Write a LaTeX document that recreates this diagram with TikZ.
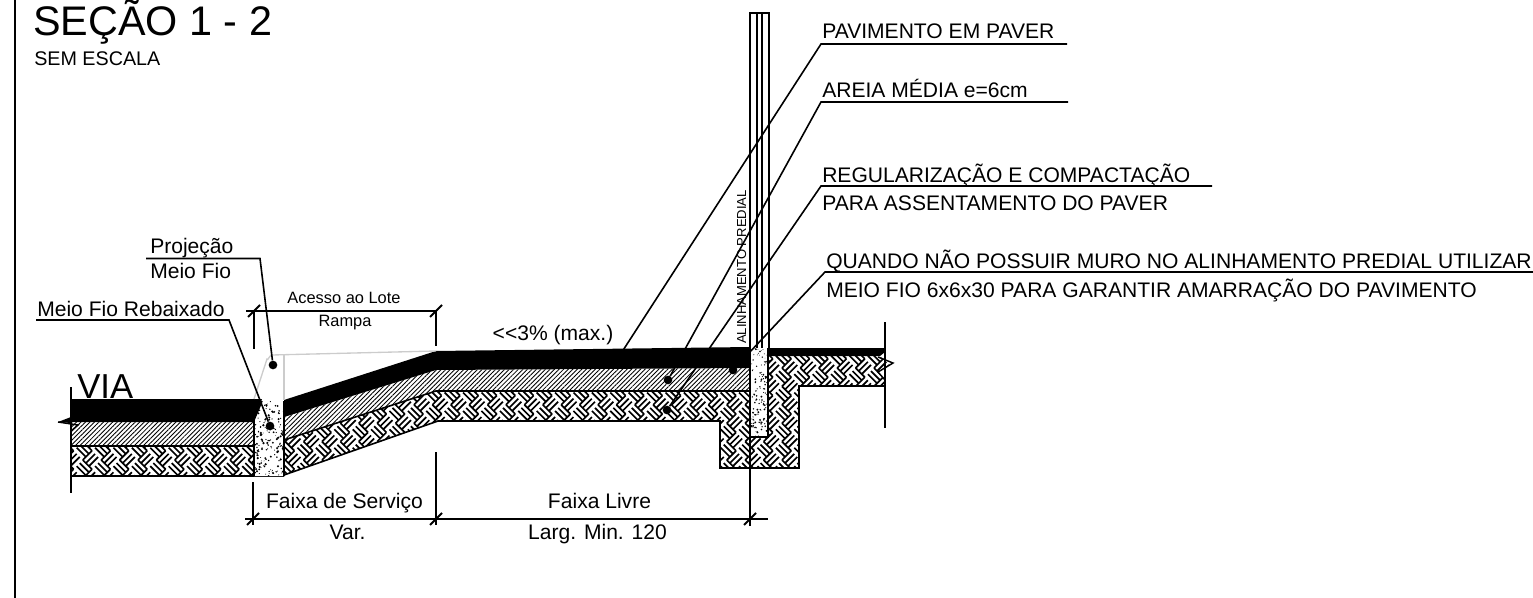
\documentclass[tikz,border=0pt]{standalone}
\usepackage{fontspec}
\setmainfont{Liberation Sans}
\usetikzlibrary{patterns.meta}
\newcommand{\weavecells}{%
    \foreach \i in {3,...,49} {
        \foreach \j in {19,...,26} {
            \foreach \cx/\cy/\turn in {0/0/45, 9.2/9.2/-45} {
                \draw[line width=1.25pt, shift={(\i*18.4+\cx,\j*18.4+\cy)}, rotate=\turn]
                    (-6.5,-6.5) -- (6.5,-6.5)
                    (-6.5,-2.17) -- (6.5,-2.17)
                    (-6.5,2.17) -- (6.5,2.17);
            }
        }
    }
}
\newcommand{\speckle}[4]{%
    \foreach \n in {1,...,#1} {
        \fill ({#2+rnd*(#3-#2)},{#4+rnd*(#4*0+1)*\curbheight}) circle ({0.5+rnd*1.1});
    }
}
\begin{document}
\begin{tikzpicture}[
        x=0.75pt,
        y=-0.75pt,
        mainline/.style={line width=1.2pt},
        dimline/.style={line width=1.1pt},
        greyline/.style={line width=1pt, draw=black!20},
        hatchfill/.style={pattern={Lines[angle=45,distance=2.4pt,line width=0.65pt]}},
        tick/.style={line width=1.5pt},
        dot/.style={circle, fill, inner sep=0, minimum size=6.5pt},
        callout/.style={font=\fontsize{15.8}{18}\selectfont, inner sep=0, anchor=base west},
        small/.style={font=\fontsize{12.3}{14}\selectfont, inner sep=0, anchor=base},
        label/.style={font=\fontsize{15.8}{18}\selectfont, inner sep=0, anchor=base}
    ]
    \useasboundingbox (0,0) rectangle (1533,598);
    \draw[mainline] (15,0) -- (15,598);

    % layers
    \begin{scope}
        \clip (71,446) -- (254,446) -- (254,476) -- (71,476) -- cycle
            (284,440) -- (436,391) -- (751,391) -- (751,356) -- (878,356) -- (893,363) -- (878,372)
            -- (885,380) -- (885,386) -- (799,386) -- (799,468) -- (720,468) -- (720,421)
            -- (438,421) -- (284,475) -- cycle;
        \weavecells
    \end{scope}
    \draw[mainline] (71,446) -- (254,446) (71,476) -- (284,476)
        (284,475) -- (438,421) -- (720,421) -- (720,468) -- (799,468) -- (799,386) -- (885,386)
        (284,440) -- (436,391) -- (751,391);
    \path[hatchfill] (71,422) -- (254,422) -- (254,446) -- (71,446) -- cycle;
    \path[hatchfill] (284,417) -- (436,370) -- (750,368) -- (750,391) -- (436,391) -- (284,440) -- cycle;
    \fill (71,399) -- (262,399) -- (254,422) -- (71,422) -- cycle;
    \fill (284,400) -- (436,351) -- (750,347) -- (750,368) -- (436,370) -- (284,417) -- cycle;
    \fill (768,348) -- (885,348) -- (885,352) -- (880,356) -- (768,356) -- cycle;

    % breaks
    \fill (71,417) -- (58,422) -- (71,423) -- cycle;
    \draw[dimline] (58,422) -- (78,425) -- (71,431) -- (71,476);
    \draw[dimline] (878,357) -- (893,363) -- (878,372) -- (885,380);

    % curbs
    \begin{scope}
        \fill[white] (262,401) -- (284,401) -- (284,476) -- (254,476) -- (254,420) -- cycle;
        \clip (262,401) -- (284,401) -- (284,476) -- (254,476) -- (254,420) -- cycle;
        \pgfmathsetseed{7}
        \foreach \n in {1,...,170} {
            \fill ({254+rnd*30},{401+rnd*75}) circle ({0.35+rnd*0.9});
        }
    \end{scope}
    \draw[mainline] (254,476) -- (254,420) -- (262,401) (284,401) -- (284,476);
    \begin{scope}
        \fill[white] (751,348) rectangle (768,437);
        \clip (751,348) rectangle (768,437);
        \foreach \n in {1,...,120} {
            \fill ({751+rnd*17},{348+rnd*89}) circle ({0.3+rnd*0.75});
        }
    \end{scope}
    \draw[mainline] (751,437) -- (768,437) -- (768,348);

    % wall
    \draw[mainline] (750,526) -- (750,13) -- (769,13) -- (769,348);
    \draw[dimline] (757,13) -- (757,348) (762,13) -- (762,348);

    % projection of the curb
    \draw[greyline] (254,399) -- (267,359) to[out=-70,in=178] (272,355) -- (436,351);
    \draw[greyline] (284,355) -- (284,400);

    % extension lines
    \draw[dimline] (71,387) -- (71,493);
    \draw[dimline] (885,322) -- (885,428);
    \draw[dimline] (254,311) -- (254,349);
    \draw[dimline] (436,311) -- (436,346);
    \draw[dimline] (253,482) -- (253,525);
    \draw[dimline] (436,452) -- (436,525);

    % dimensions
    \coordinate (dimA) at (254,311);
    \coordinate (dimB) at (436,311);
    \coordinate (dimC) at (253,519);
    \coordinate (dimD) at (436,519);
    \coordinate (dimE) at (750,519);
    \draw[dimline] (246,311) -- (dimA) -- (dimB);
    \draw[dimline] (245,519) -- (dimC) -- (dimD) -- (dimE) -- (768,519);
    \foreach \p in {dimA,dimB,dimC,dimD,dimE} {
        \draw[tick] ([shift={(-6,6)}]\p) -- ([shift={(6,-6)}]\p);
    }

    % texts
    \node[inner sep=0, anchor=base west, font=\fontsize{31}{36}\selectfont] (title) at (33,36) {SEÇÃO 1 - 2};
    \node[inner sep=0, anchor=base west, font=\fontsize{14.8}{17}\selectfont] (scale) at (34,66) {SEM ESCALA};
    \node[inner sep=0, anchor=base west, font=\fontsize{26}{30}\selectfont] (via) at (77,398) {VIA};
    \node[callout] (proj) at (150,254) {Projeção};
    \node[callout] (projb) at (150,279) {Meio Fio};
    \node[callout] (rebaix) at (37,316) {Meio Fio Rebaixado};
    \node[small] (acesso) at (344,304) {Acesso ao Lote};
    \node[small] (rampa) at (345,326) {Rampa};
    \node[label] (slope) at (553,340) {<{}<3\% (max.)};
    \node[label] (servico) at (344.5,508) {Faixa de Serviço};
    \node[label] (var) at (347.5,539) {Var.};
    \node[label] (livre) at (599.5,508) {Faixa Livre};
    \node[label] (larg) at (597.5,539) {Larg. Min. 120};
    \node[rotate=90, inner sep=0, anchor=base, font=\fontsize{9.8}{12}\selectfont] (alin) at (746,267) {ALINHAMENTO PREDIAL};
    \node[callout] (paver) at (822,39) {PAVIMENTO EM PAVER};
    \node[callout] (areia) at (822,98) {AREIA MÉDIA e=6cm};
    \node[callout] (regul) at (822,183) {REGULARIZAÇÃO E COMPACTAÇÃO};
    \node[callout] (assent) at (822,211) {PARA ASSENTAMENTO DO PAVER};
    \node[callout] (quando) at (826,269) {QUANDO NÃO POSSUIR MURO NO ALINHAMENTO PREDIAL UTILIZAR};
    \node[callout] (amarra) at (826,297) {MEIO FIO 6x6x30 PARA GARANTIR AMARRAÇÃO DO PAVIMENTO};

    % leaders
    \node[dot] (dotproj) at (273,365) {};
    \node[dot] (dotcurb) at (270,426) {};
    \node[dot] (dotareia) at (668,380) {};
    \node[dot] (dotregul) at (667,410) {};
    \node[dot] (dotquando) at (733,370) {};
    \coordinate (endpaver) at (620,355);
    \draw[mainline] (146,258.5) -- (260,258.5) -- (dotproj);
    \draw[mainline] (36,320) -- (229,320) -- (dotcurb);
    \draw[mainline] (1067,44) -- (821,44) -- (endpaver);
    \draw[mainline] (1068,102) -- (821,102) -- (dotareia);
    \draw[mainline] (1212,186) -- (821,186) -- (dotregul);
    \draw[mainline] (1533,272) -- (825,272) -- (dotquando);
\end{tikzpicture}
\end{document}
